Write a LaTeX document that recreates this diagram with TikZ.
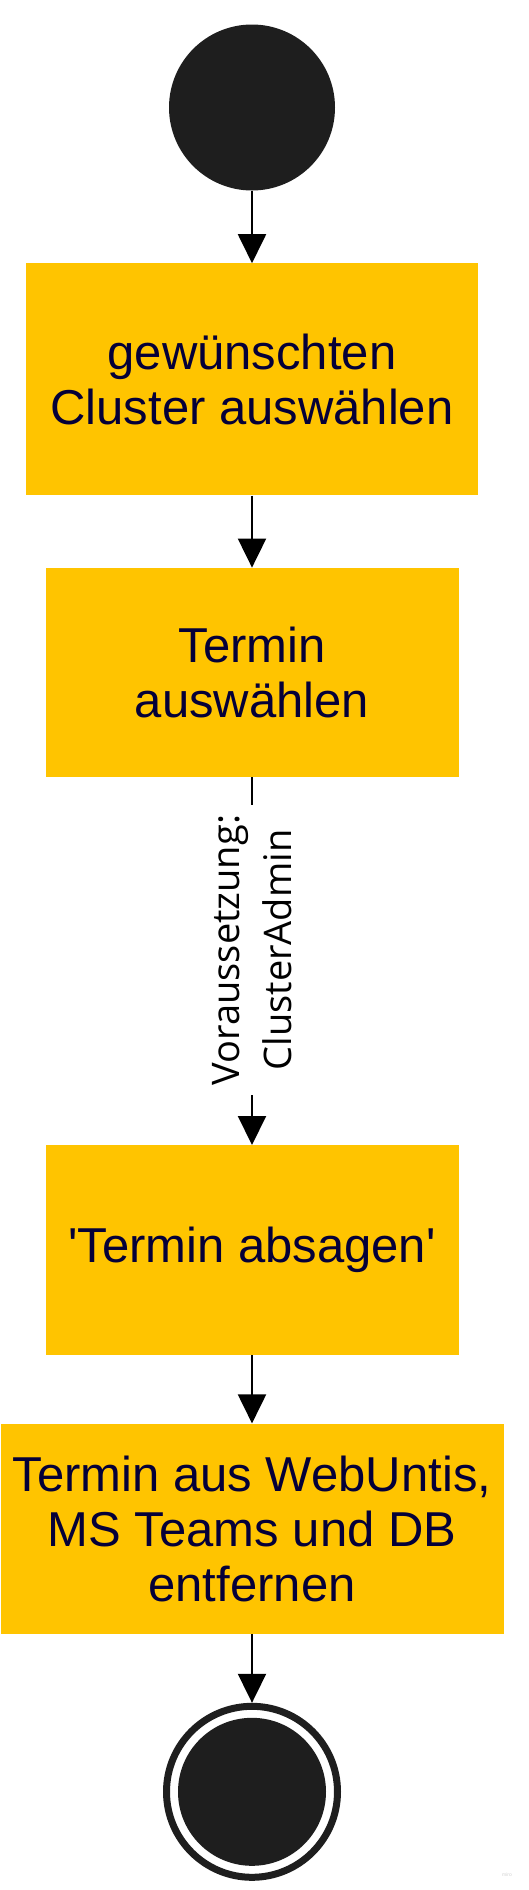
\documentclass[tikz,border=0pt]{standalone}
\usepackage{fontspec}
\setmainfont{Liberation Sans}[Ligatures=TeXOff]
\newfontfamily\notefont{Open Sans}
\usetikzlibrary{arrows.meta,
                positioning,
                shapes.geometric
                }
\definecolor{actyellow}{HTML}{FFC400}
\definecolor{inkblack}{HTML}{1E1E1E}
\definecolor{txtblue}{HTML}{050038}

\begin{document}
\begin{tikzpicture}[
    x=1pt, y=1pt,
 startdot/.style = {circle, fill=inkblack, minimum size=166pt, inner sep=0pt},
   enddot/.style = {circle, draw=inkblack, line width=7pt, minimum size=171pt, inner sep=0pt,
                    path picture={\fill[inkblack] (path picture bounding box.center) circle (74pt);}},
      act/.style = {rectangle, fill=actyellow, text=txtblue, align=center, inner sep=0pt,
                    font=\fontsize{49}{55}\selectfont},
     flow/.style = {line width=2pt, -{Triangle[width=28pt,length=29pt]}},
     cond/.style = {rotate=90, fill=white, align=center, inner xsep=10pt, inner ysep=2pt,
                    font=\notefont\fontsize{38}{52}\selectfont}
                    ]
\useasboundingbox (0,0) rectangle (529,-1890);
\node (s)  [startdot] at (252,-107.5) {};
\node (a1) [act, minimum width=452pt, minimum height=232pt, below=72.5pt of s]  {gewünschten\\ Cluster auswählen};
\node (a2) [act, minimum width=413pt, minimum height=209pt, below=72pt of a1]   {Termin\\ auswählen};
\node (a3) [act, minimum width=413pt, minimum height=210pt, below=368pt of a2]  {'Termin absagen'};
\node (a4) [act, minimum width=503pt, minimum height=210pt, below=68pt of a3]   {Termin aus WebUntis,\\ MS Teams und DB\\ entfernen};
\node (e)  [enddot, below=69pt of a4] {};
\node (wm) [text=gray!35, font=\fontsize{5}{6}\selectfont] at (507,-1875) {miro};
% connectors
\foreach \u/\v in {s/a1, a1/a2, a3/a4, a4/e}
    \draw[flow] (\u) -- (\v);
\draw[flow] (a2) -- node[cond, pos=0.47] {Voraussetzung:\\ ClusterAdmin} (a3);
\end{tikzpicture}
\end{document}
